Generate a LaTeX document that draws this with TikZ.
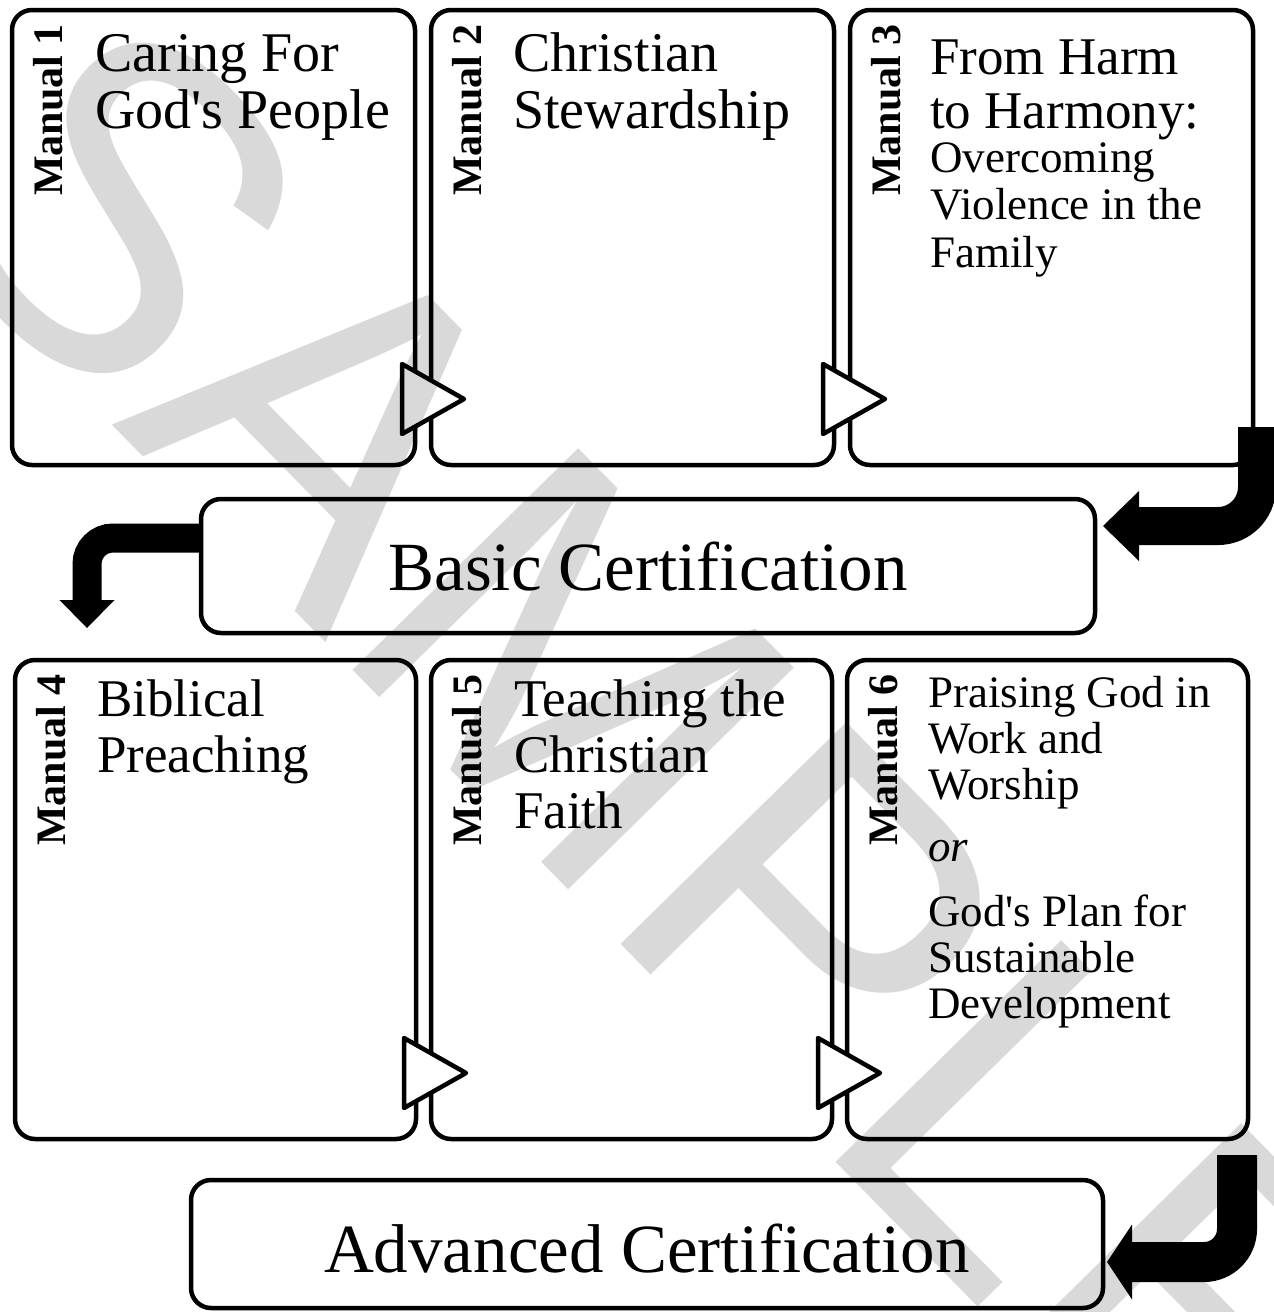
\documentclass[tikz,border=0pt]{standalone}
\usepackage{fontspec}
\setmainfont{Liberation Serif}[Ligatures=TeXOff]
\newfontfamily\wmfont{Liberation Sans}
\usetikzlibrary{positioning, arrows.meta, calc}
\definecolor{wmgray}{HTML}{D9D9D9}

\begin{document}
\begin{tikzpicture}[x=1pt, y=-1pt,
  manualbox/.style={draw, line width=4.5pt, rounded corners=20pt, inner sep=0pt, outer sep=0pt, minimum width=403pt, minimum height=455pt},
  certbox/.style={draw, line width=4.5pt, rounded corners=20pt, inner sep=0pt, outer sep=0pt, font=\fontsize{69}{69}\selectfont, text depth=0pt},
  title/.style={anchor=base west, align=left, inner sep=0pt, font=\fontsize{56}{57}\selectfont},
  mlabel/.style={rotate=90, anchor=base west, inner sep=0pt, font=\bfseries\fontsize{42}{42}\selectfont},
  chevron/.style={draw, line width=4.5pt, line join=round},
  fatarrow/.style={draw, line cap=butt},
  watermark/.style={rotate=-45.5, anchor=base west, inner sep=0pt, text=wmgray, font=\wmfont\fontsize{460}{460}\selectfont}]
\clip (0,0) rectangle (1274,1312);
\useasboundingbox (0,0) rectangle (1274,1312);

% watermark
\node[watermark] (wm) at (-104,206) {SAMPLE};

% first row
\node[manualbox] (m1) at (213.5,237.5) {};
\node[manualbox] (m2) [right=16pt of m1] {};
\node[manualbox] (m3) [right=16pt of m2] {};
\node[title] (t1) at ($(m1.north west)+(83,118)$) {Caring For\\God's People};
\node[title] (t2) at ($(m2.north west)+(82,118)$) {Christian\\Stewardship};
\node[title, font=\fontsize{53}{54}\selectfont] (t3) at ($(m3.north west)+(80,118)$) {From Harm\\to Harmony:};
\node[title, font=\fontsize{45}{47.5}\selectfont] (s3) at ($(m3.north west)+(80,257)$) {Overcoming\\Violence in the\\Family};
\node[mlabel] (l1) at ($(m1.north west)+(50,186)$) {Manual 1};
\node[mlabel] (l2) at ($(m2.north west)+(50,186)$) {Manual 2};
\node[mlabel] (l3) at ($(m3.north west)+(50,186)$) {Manual 3};

% basic certification
\node[certbox, minimum width=894pt, minimum height=134pt, text height=48pt] (basic) at (648,566) {Basic Certification};

% second row
\node[manualbox, minimum width=401pt, minimum height=479pt] (m4) at (215.5,899.5) {};
\node[manualbox, minimum width=401pt, minimum height=479pt] (m5) [right=15pt of m4] {};
\node[manualbox, minimum width=401pt, minimum height=479pt] (m6) [right=15pt of m5] {};
\node[title, font=\fontsize{53}{56}\selectfont] (t4) at ($(m4.north west)+(82,112)$) {Biblical\\Preaching};
\node[title, font=\fontsize{53}{56}\selectfont] (t5) at ($(m5.north west)+(83,168)$) {Teaching the\\Christian\\Faith};
\node[title, font=\fontsize{45}{46}\selectfont] (t6) at ($(m6.north west)+(81,358)$) {Praising God in\\Work and\\Worship\\[16pt]\textit{or}\\[19pt]God's Plan for\\Sustainable\\Development};
\node[mlabel] (l4) at ($(m4.north west)+(50,186)$) {Manual 4};
\node[mlabel] (l5) at ($(m5.north west)+(50,186)$) {Manual 5};
\node[mlabel] (l6) at ($(m6.north west)+(50,186)$) {Manual 6};

% advanced certification
\node[certbox, minimum width=912pt, minimum height=128pt, text height=56pt] (adv) at (647,1244) {Advanced Certification};

% white chevrons between the manuals
\foreach \b/\d in {m1/-13, m2/-11, m4/-12, m5/-14} {
  \begin{scope}
    \fill[white] ($(\b.south east)+(\d,-101)$) -- ($(\b.south east)+(\d+62,-66)$) -- ($(\b.south east)+(\d,-31)$) -- cycle;
    \clip ($(\b.south east)+(\d,-101)$) -- ($(\b.south east)+(\d+62,-66)$) -- ($(\b.south east)+(\d,-31)$) -- cycle;
    \node[watermark] (wm\b) at (-104,206) {SAMPLE};
  \end{scope}
  \draw[chevron] ($(\b.south east)+(\d,-101)$) -- ($(\b.south east)+(\d+62,-66)$) -- ($(\b.south east)+(\d,-31)$) -- cycle;
}

% bent arrows
\draw[fatarrow, line width=38pt, rounded corners=39pt, -{Triangle[length=36pt, width=70pt, line width=0pt]}]
  ($(m3.south east)+(4,-38)$) |- ($(basic.north east)+(8,27)$);
\draw[fatarrow, line width=29pt, rounded corners=26pt, -{Triangle[length=28pt, width=55pt, line width=0pt]}]
  ($(basic.north west)+(0,39)$) -| ($(m4.north west)+(72,-32)$);
\draw[fatarrow, line width=40pt, rounded corners=33pt, -{Triangle[length=25pt, width=75pt, line width=0pt]}]
  ($(m6.south east)+(-11,16)$) |- ($(adv.north east)+(4,82)$);
\end{tikzpicture}
\end{document}
